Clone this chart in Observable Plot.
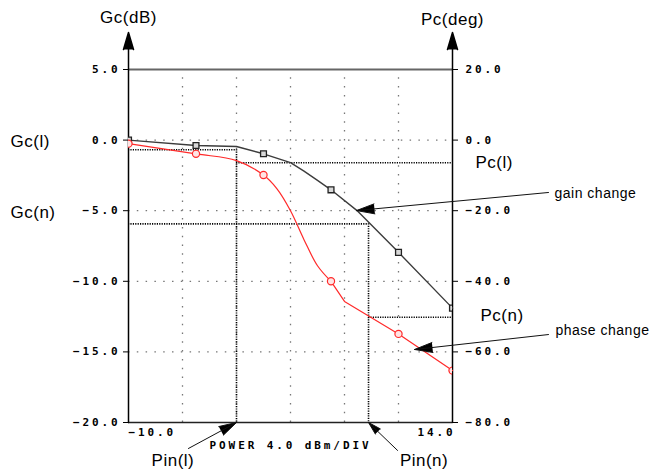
<!DOCTYPE html>
<html><head><meta charset="utf-8">
<script src="https://cdn.jsdelivr.net/npm/d3@7"></script>
<script src="https://cdn.jsdelivr.net/npm/@observablehq/plot@0.6"></script>
<style>
body{margin:0;background:#fff}
svg{letter-spacing:2.9px;font-weight:bold}
g[font-family="Liberation Sans"]{letter-spacing:0.5px;font-weight:normal}
</style>
</head><body>
<script>
// ---- data ----
const gainTicks = [5, 0, -5, -10, -15, -20];          // Gc (dB), left axis
const phaseTicks = [20, 0, -20, -40, -60, -80];       // Pc (deg), right axis
const powerLabels = [-10, 14];                        // Pin (dBm) end labels
const gridPower = [-6, -2, 2, 6, 10];
const gridGain = [0, -5, -10, -15];

const gainPower = [-10, -5, -2, 0, 2, 3, 4, 5, 7, 10, 14];
const gainDb    = [0.0, -0.38, -0.45, -0.97, -1.6, -2.2, -2.85, -3.52, -5.05, -7.95, -11.9];

const phasePower = [-10, -5, -2, 0, 1, 2, 3, 4, 5, 6, 10, 14];
const phaseDeg   = [-1.0, -3.9, -5.8, -9.9, -13.8, -20.0, -28.2, -35.6, -40.0, -45.7, -54.9, -65.3];

const markerPower = [-10, -5, 0, 5, 10, 14];

const pinL = -2, pinN = 7.78;        // dBm
const gcL = -0.68, gcN = -5.93;      // dB
const pcL = -6.4, pcN = -50.2;       // deg

// callouts: tail (x1,y1) -> head (x2,y2), in data units (x dBm, y dB)
const callouts = [
  {label: "gain change",  x1: 21.11, y1: -3.71,  x2: 6.89,  y2: -4.99,  dx: 6,     dy: 1,  anchor: "start",  size: 14},
  {label: "phase change", x1: 21.11, y1: -13.77, x2: 11.19, y2: -14.83, dx: 7,     dy: -4, anchor: "start",  size: 14},
  {label: "Pin(l)",       x1: -5.56, y1: -21.84, x2: pinL,  y2: -20,    dx: -15.5, dy: 12, anchor: "middle", size: 17},
  {label: "Pin(n)",       x1: 9.93,  y1: -21.98, x2: pinN,  y2: -20,    dx: 26.5,  dy: 10, anchor: "middle", size: 17}
];

// ---- build ----
const degPerDb = 4; // right axis: 20 deg per 5 dB
const fmt = v => v.toFixed(1).replace("-", "\u2212");
const gain = gainPower.map((p, i) => ({p, v: gainDb[i]}));
const phase = phasePower.map((p, i) => ({p, v: phaseDeg[i] / degPerDb}));
const axisTop = 7.62;

const sans = "Liberation Sans";
const mono = "DejaVu Sans Mono";
const dotted = {stroke: "#000", strokeWidth: 1.6, strokeDasharray: "1.2 1.2"};
const grid = {stroke: "#777", strokeWidth: 1.3, strokeDasharray: "1.5 7.3"};

const chart = Plot.plot({
  width: 650, height: 474,
  marginLeft: 128, marginRight: 198, marginTop: 69, marginBottom: 52,
  style: {fontFamily: mono, fontSize: "11px", background: "#fff", color: "#000"},
  x: {domain: [-10, 14], axis: null},
  y: {domain: [-20, 5], axis: null},
  marks: [
    // dotted grid
    Plot.ruleX(gridPower, {x: d => d, y1: -20, y2: 5, ...grid}),
    Plot.ruleY(gridGain, {y: d => d, x1: -10, x2: 14, ...grid}),
    // top line at 5 dB
    Plot.ruleY([5], {y: d => d, x1: -10, x2: 14, stroke: "#666", strokeWidth: 2}),
    // bottom axis
    Plot.ruleY([-20], {y: d => d, x1: -10, x2: 14, stroke: "#222", strokeWidth: 1.5}),
    // axis arrows
    Plot.arrow([-10, 14], {x1: d => d, x2: d => d, y1: -20, y2: axisTop, stroke: "#000", fill: "#000",
      strokeWidth: 1.5, headLength: 17.7, headAngle: 33}),
    // reference (dotted) lines
    Plot.ruleY([gcL], {y: d => d, x1: -10, x2: pinL, ...dotted}),
    Plot.ruleX([pinL], {x: d => d, y1: gcL, y2: -20, ...dotted}),
    Plot.ruleY([pcL / degPerDb], {y: d => d, x1: pinL, x2: 14, ...dotted}),
    Plot.ruleY([gcN], {y: d => d, x1: -10, x2: pinN, ...dotted}),
    Plot.ruleX([pinN], {x: d => d, y1: gcN, y2: -20, ...dotted}),
    Plot.ruleY([pcN / degPerDb], {y: d => d, x1: pinN, x2: 14, ...dotted}),
    // curves
    Plot.line(gain, {x: "p", y: "v", stroke: "#3c3c3c", strokeWidth: 1.4}),
    Plot.line(phase.filter(d => d.p <= 5), {x: "p", y: "v", stroke: "#ff2a2a", strokeWidth: 1.2, curve: "catmull-rom"}),
    Plot.line(phase.filter(d => d.p >= 5), {x: "p", y: "v", stroke: "#ff2a2a", strokeWidth: 1.2}),
    Plot.dot(gain.filter(d => markerPower.includes(d.p)), {x: "p", y: "v", symbol: "square", r: 3.3,
      stroke: "#222", fill: "#d8d8d8", strokeWidth: 1.3, clip: true}),
    Plot.dot(phase.filter(d => markerPower.includes(d.p)), {x: "p", y: "v", symbol: "circle", r: 3.6,
      stroke: "#ff2a2a", fill: "#ffe4e4", strokeWidth: 1.2, clip: true}),
    // axes
    Plot.axisY({anchor: "left", ticks: gainTicks, tickFormat: fmt, tickSize: 5, tickPadding: 3, label: null, stroke: "#000"}),
    Plot.axisY({anchor: "right", ticks: phaseTicks.map(d => d / degPerDb), tickFormat: d => fmt(d * degPerDb),
      tickSize: 5, tickPadding: 8, label: null, stroke: "#000"}),
    Plot.text([powerLabels[0]], {x: d => d, y: -20, text: d => fmt(d), textAnchor: "start", dy: 10, fontFamily: mono}),
    Plot.text([powerLabels[1]], {x: d => d, y: -20, text: d => fmt(d), textAnchor: "end", dy: 10, dx: 3, fontFamily: mono}),
    Plot.text(["POWER 4.0 dBm/DIV"], {x: 2, y: -20, text: d => d, dy: 23, dx: 0, fontFamily: mono}),
    // axis titles and level labels
    Plot.text(["Gc(dB)"], {x: -10, y: 5, text: d => d, dy: -52, fontFamily: sans, fontSize: 17}),
    Plot.text(["Pc(deg)"], {x: 14, y: 5, text: d => d, dy: -50, fontFamily: sans, fontSize: 17}),
    Plot.text(["Gc(l)"], {x: -10, y: 0, text: d => d, textAnchor: "start", dx: -118, dy: 1, fontFamily: sans, fontSize: 17}),
    Plot.text(["Gc(n)"], {x: -10, y: -5, text: d => d, textAnchor: "start", dx: -118, dy: 2, fontFamily: sans, fontSize: 17}),
    Plot.text(["Pc(l)"], {x: 14, y: pcL / degPerDb, text: d => d, textAnchor: "start", dx: 23, dy: 0, fontFamily: sans, fontSize: 17}),
    Plot.text(["Pc(n)"], {x: 14, y: pcN / degPerDb, text: d => d, textAnchor: "start", dx: 28, dy: -2, fontFamily: sans, fontSize: 17}),
    // callouts
    Plot.arrow(callouts, {x1: "x1", y1: "y1", x2: "x2", y2: "y2", stroke: "#111", fill: "#000",
      strokeWidth: 1, headLength: 28, headAngle: 31}),
    ...callouts.map(c => Plot.text([c], {x: "x1", y: "y1", text: "label", textAnchor: c.anchor,
      dx: c.dx, dy: c.dy, fontFamily: sans, fontSize: c.size}))
  ]
});
document.body.appendChild(chart);
</script>
</body></html>
